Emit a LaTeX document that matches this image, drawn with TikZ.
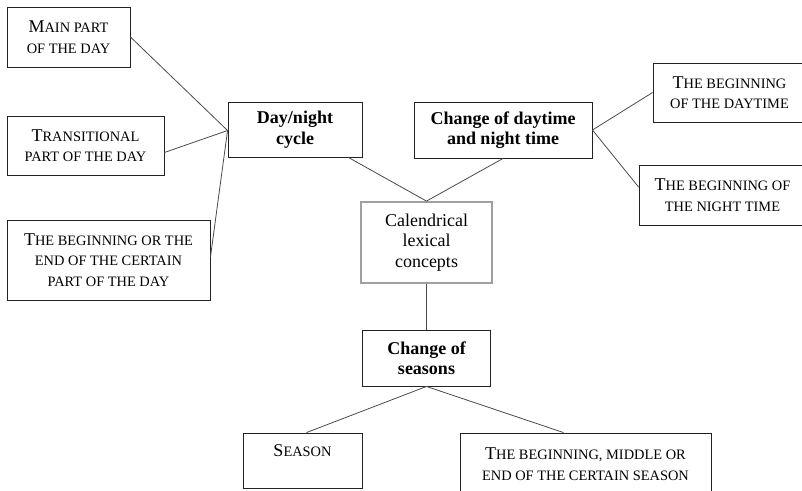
\documentclass[tikz,border=0pt]{standalone}
\usepackage{fontspec}
\setmainfont{Liberation Serif}
\usetikzlibrary{calc}
% body size and the reduced size used for the small-capital labels
\newcommand\bodyfs{\fontsize{18}{20.5}\selectfont}
\newcommand\smc[1]{{\fontsize{14.4}{20.5}\selectfont\uppercase{#1}}}
\definecolor{boxline}{HTML}{222222}
\definecolor{linkline}{HTML}{4A4A4A}
\definecolor{rootline}{HTML}{A0A0A0}
\tikzset{
  box/.style={draw=boxline, line width=0.9pt, inner sep=0pt, align=center, font=\bodyfs},
  bbox/.style={box, font=\bodyfs\bfseries},
  rootbox/.style={box, draw=rootline, line width=1.8pt},
  link/.style={draw=linkline, line width=0.8pt}
}
\begin{document}
\begin{tikzpicture}[x=1pt, y=-1pt]
\useasboundingbox (0,0) rectangle (802,490);
\begin{scope}
\clip (0,0) rectangle (802,490);

% root concept
\node[rootbox, minimum width=131pt, minimum height=81pt] (cal) at (426.5,242.5)
  {Calendrical\\lexical\\concepts};

% three subcategories
\node[bbox, minimum width=134pt, minimum height=55pt] (dn) at (295,129.5)
  {Day/night\\cycle};
\node[bbox, minimum width=178pt, minimum height=56pt] (cd) at (503,130)
  {Change of daytime\\and night time};
\node[bbox, minimum width=128pt, minimum height=56pt] (cs) at (426.5,358)
  {Change of\\seasons};

% day/night cycle members
\node[box, minimum width=123pt, minimum height=60pt] (main) at (68.5,37)
  {M\smc{ain part}\\\smc{of the day}};
\node[box, minimum width=157pt, minimum height=59pt] (trans) at (85.5,145.5)
  {T\smc{ransitional}\\\smc{part of the day}};
\node[box, minimum width=203pt, minimum height=80pt] (bend) at (108.5,260)
  {T\smc{he beginning or the}\\\smc{end of the certain}\\\smc{part of the day}};

% change of daytime and night time members
\node[box, minimum width=153pt, minimum height=59pt] (dayb) at (729.5,92.5)
  {T\smc{he beginning}\\\smc{of the daytime}};
\node[box, minimum width=167pt, minimum height=60pt] (night) at (722.5,195)
  {T\smc{he beginning of}\\\smc{the night time}};

% change of seasons members
\node[box, minimum width=119pt, minimum height=55pt] (season) at (302.5,460.5)
  {S\smc{eason}\\\mbox{}};
\node[box, minimum width=251pt, minimum height=62pt] (bm) at (585.5,464)
  {T\smc{he beginning, middle or}\\\smc{end of the certain season}};

% connectors
\draw[link] ([xshift=-14pt]dn.south east) -- (cal.north);
\draw[link] (cd.south) -- (cal.north);
\draw[link] (cal.south) -- (cs.north);

\draw[link] (main.east) -- ([yshift=-1pt]dn.west);
\draw[link] ([yshift=-7pt]trans.east) -- ([yshift=-1pt]dn.west);
\draw[link] ([yshift=3pt]bend.east) -- ([yshift=-1pt]dn.west);

\draw[link] (cd.east) -- (dayb.west);
\draw[link] (cd.east) -- ([yshift=8pt]night.west);

\draw[link] (cs.south) -- ([xshift=4pt]season.north);
\draw[link] (cs.south) -- ([xshift=-22pt]bm.north);
\end{scope}
\end{tikzpicture}
\end{document}
